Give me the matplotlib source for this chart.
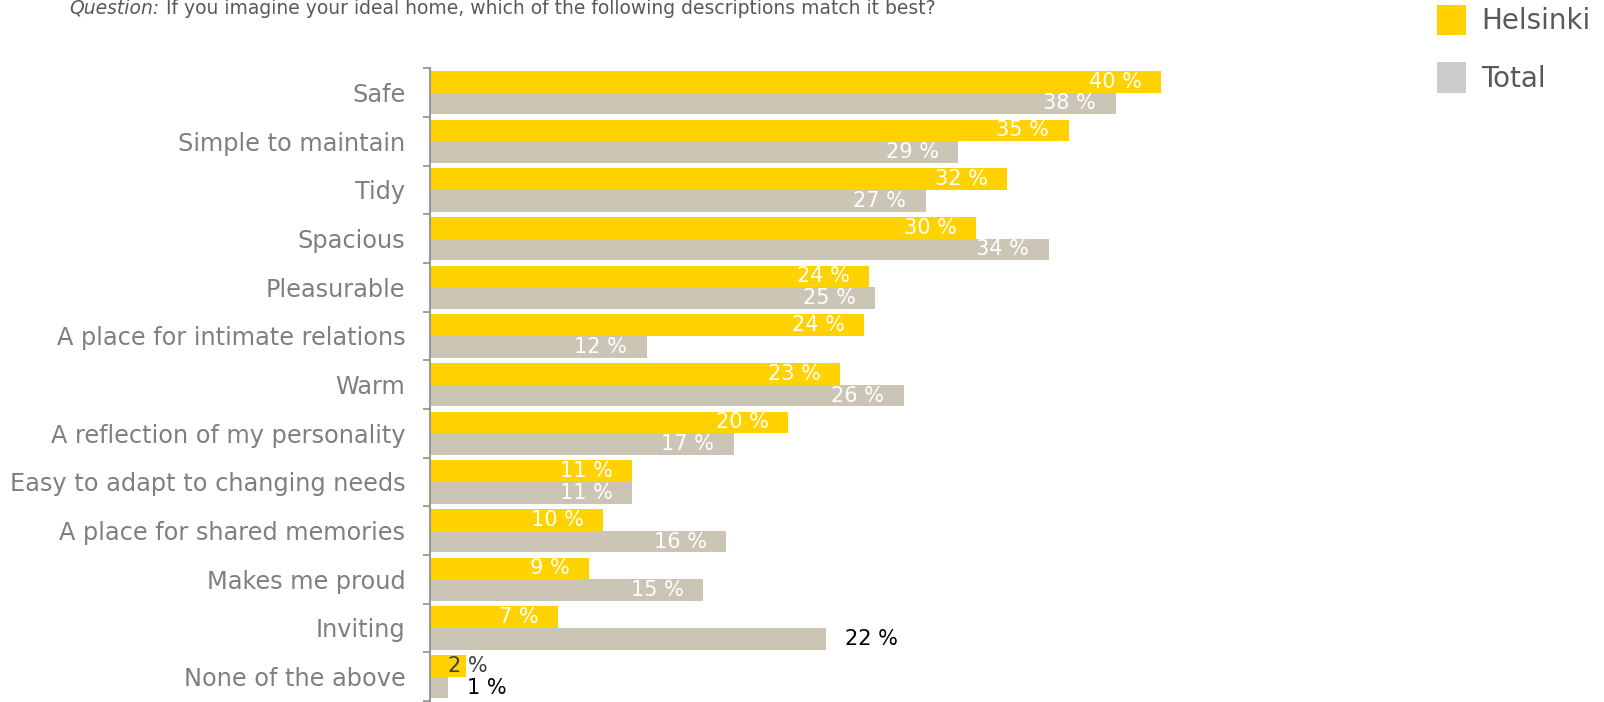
import matplotlib
matplotlib.use("Agg")
import matplotlib.pyplot as plt
from matplotlib.patches import Patch
import numpy as np

# data (bar lengths, labels are rounded)
categories = [
    "Safe", "Simple to maintain", "Tidy", "Spacious", "Pleasurable",
    "A place for intimate relations", "Warm", "A reflection of my personality",
    "Easy to adapt to changing needs", "A place for shared memories",
    "Makes me proud", "Inviting", "None of the above",
]
helsinki = [40.4, 35.3, 31.9, 30.2, 24.3, 24.0, 22.7, 19.8, 11.2, 9.6, 8.8, 7.1, 2.0]
total = [37.9, 29.2, 27.4, 34.2, 24.6, 12.0, 26.2, 16.8, 11.2, 16.4, 15.1, 21.9, 1.0]
series_names = ["Helsinki", "Total"]

YELLOW = "#FFD200"
BEIGE = "#CBC5B5"
LEGEND_GREY = "#CCCCCC"
LABEL_GREY = "#7F7F7F"
TEXT_GREY = "#595959"

plt.rcParams["font.family"] = ["DejaVu Sans"]

W, H = 1604, 702
fig = plt.figure(figsize=(W / 100, H / 100), dpi=100)

# axes placed in pixel terms
left_px, right_px = 429.6, 1380
top_px, bot_px = 68.3, 701
ax = fig.add_axes([left_px / W, 1 - bot_px / H,
                   (right_px - left_px) / W, (bot_px - top_px) / H])

y = np.arange(len(categories))
h = 0.446
ax.barh(y - h / 2, helsinki, height=h, color=YELLOW)
ax.barh(y + h / 2, total, height=h, color=BEIGE)

ax.set_xlim(0, (right_px - left_px) / 18.1)
ax.set_ylim(len(categories) - 0.5, -0.5)

# value labels: white inside the bar, black outside for the odd ones
for i, (a, b) in enumerate(zip(helsinki, total)):
    for val, yy in ((a, i - h / 2), (b, i + h / 2)):
        txt = f"{val:.0f} %"
        if categories[i] == "Inviting" and yy > i:
            ax.annotate(txt, (val, yy), xytext=(14, 0), textcoords="offset points",
                        ha="left", va="center", color="black", fontsize=15)
        elif val >= 5:
            ax.annotate(txt, (val, yy), xytext=(-14, 0), textcoords="offset points",
                        ha="right", va="center", color="white", fontsize=15)
        elif yy < i:
            # tiny yellow bar: label starts inside it
            ax.annotate(txt, (0, yy), xytext=(13, 0), textcoords="offset points",
                        ha="left", va="center", color="#404040", fontsize=15)
        else:
            ax.annotate(txt, (val, yy), xytext=(14, 0), textcoords="offset points",
                        ha="left", va="center", color="black", fontsize=15)

ax.set_yticks(y)
ax.set_yticklabels(categories, fontsize=17.3, color=LABEL_GREY)
ax.tick_params(axis="y", which="major", length=0, pad=17.5)
ax.set_yticks(np.arange(-0.5, len(categories)), minor=True)
ax.tick_params(axis="y", which="minor", length=5, width=1.3, color="#999999")
ax.set_xticks([])
for s in ["top", "right", "bottom"]:
    ax.spines[s].set_visible(False)
ax.spines["left"].set_color("#999999")
ax.spines["left"].set_linewidth(1.5)

# question line at the top
q = fig.text(69.6 / W, 1 - 8 / H, "Question:", style="italic", fontsize=13.5,
             color=TEXT_GREY, va="center", ha="left")
ax.annotate(" If you imagine your ideal home, which of the following descriptions match it best?",
            xy=(1, 0.5), xycoords=q, fontsize=13.5, color=TEXT_GREY,
            va="center", ha="left", annotation_clip=False)

handles = [Patch(facecolor=YELLOW), Patch(facecolor=LEGEND_GREY)]
leg = fig.legend(handles, series_names, loc="upper left", bbox_to_anchor=(1432 / W, 1.0),
                 frameon=False, fontsize=20, handlelength=1.05, handleheight=1.3,
                 handletextpad=0.55, labelspacing=0.97, borderaxespad=0, borderpad=0.18)
for t in leg.get_texts():
    t.set_color(TEXT_GREY)

fig.savefig("out.png", dpi=100)
